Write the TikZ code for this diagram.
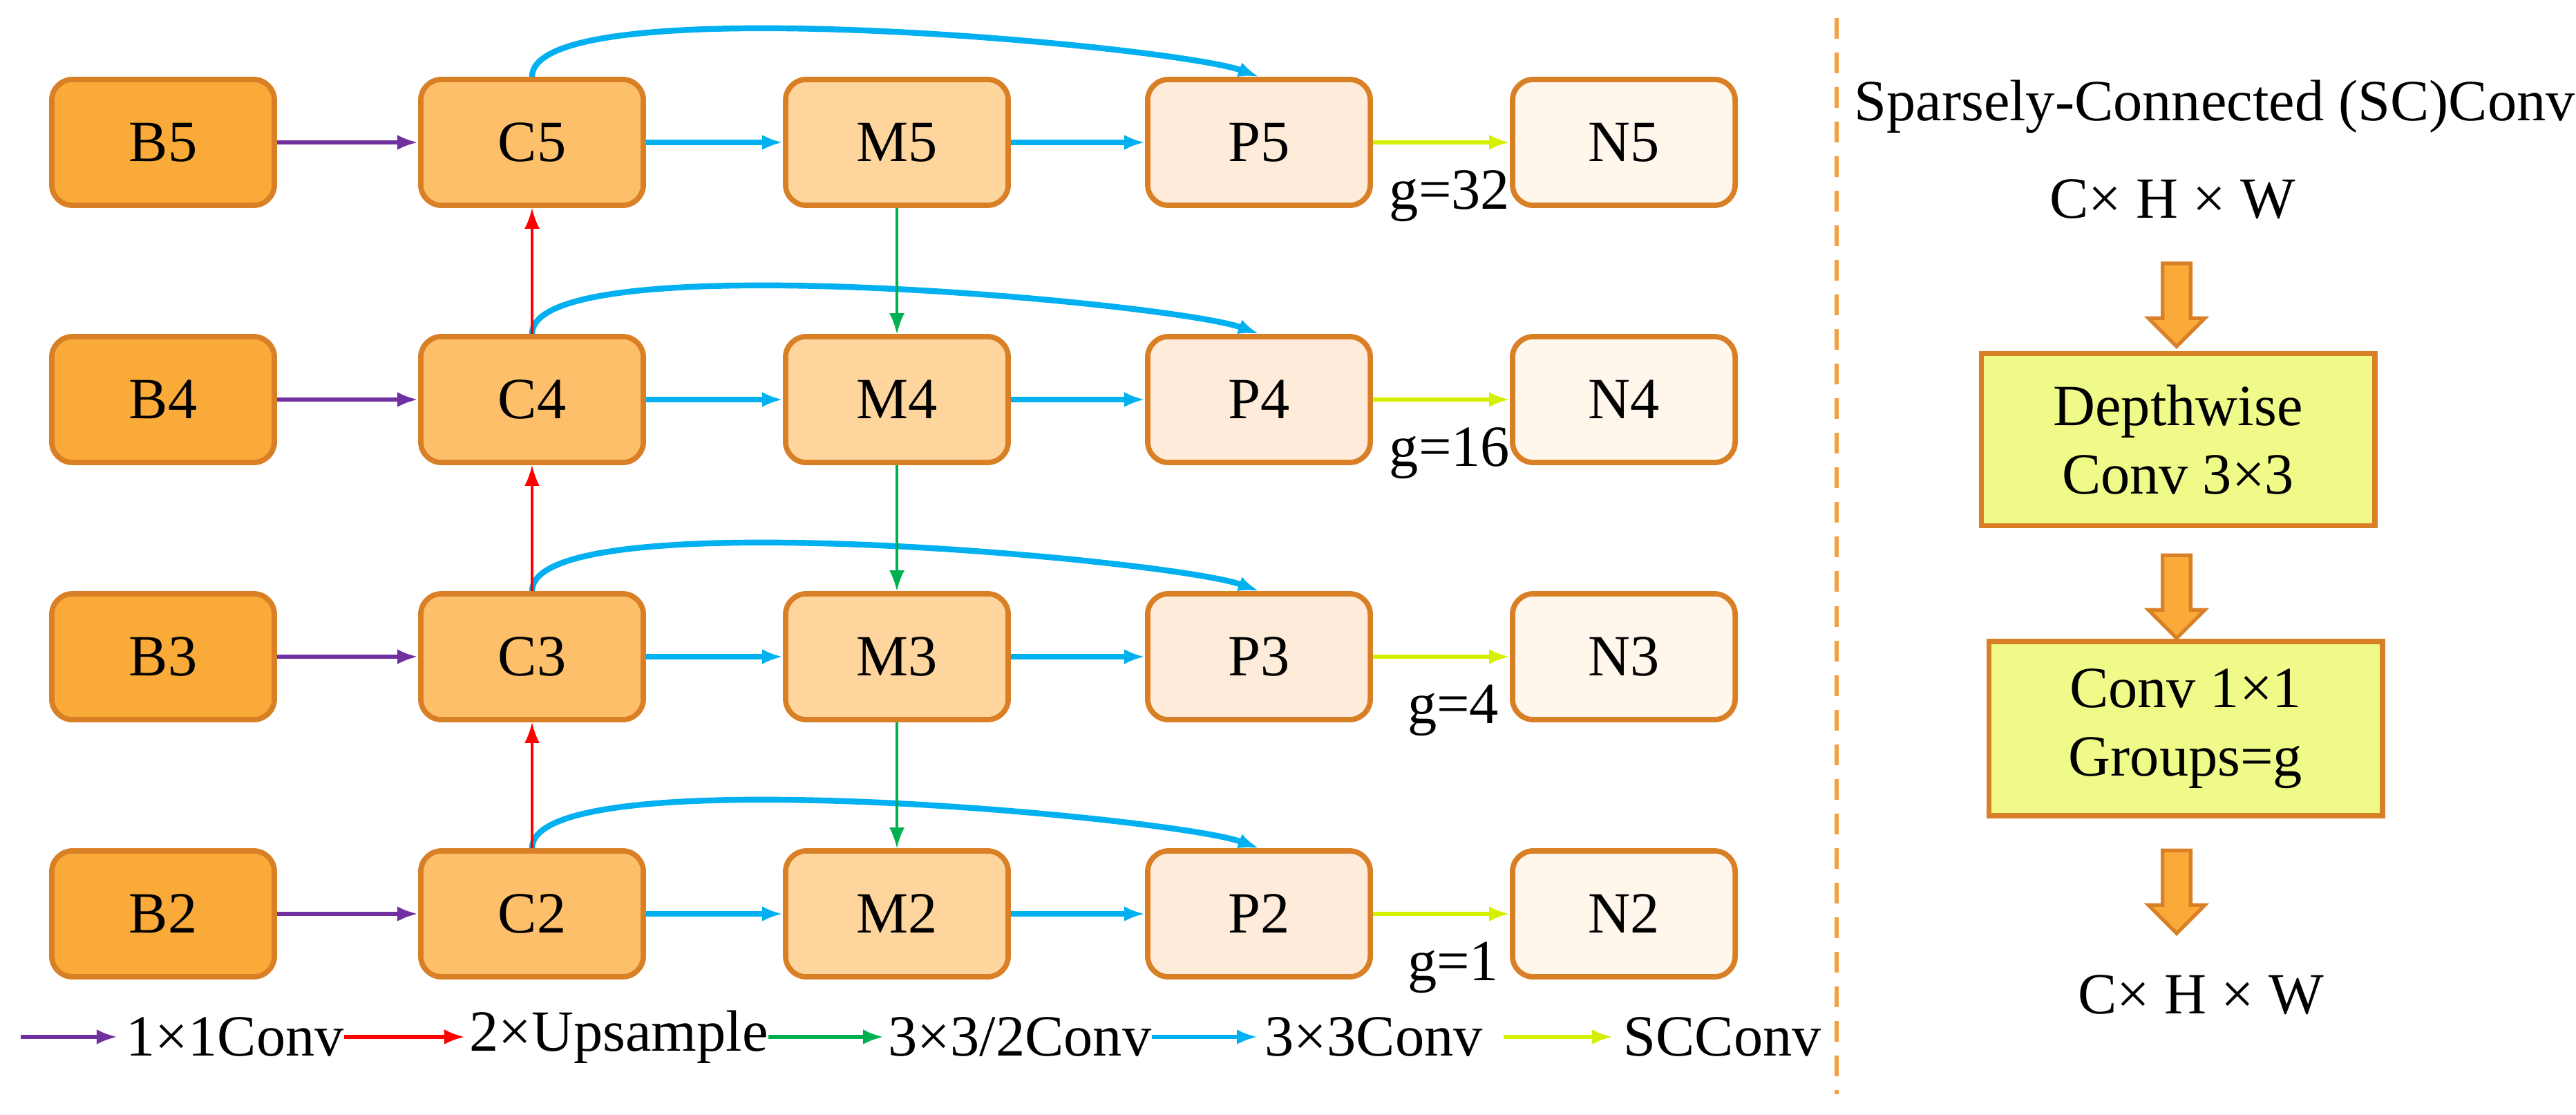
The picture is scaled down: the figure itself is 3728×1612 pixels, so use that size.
\documentclass[tikz,border=0pt]{standalone}
\usepackage{fontspec}
\setmainfont{Liberation Serif}
\usetikzlibrary{arrows.meta,shapes.arrows}
\definecolor{boxline}{HTML}{D98026}
\definecolor{colB}{HTML}{F9AA38}
\definecolor{colC}{HTML}{FDBF69}
\definecolor{colM}{HTML}{FED69D}
\definecolor{colP}{HTML}{FEEBDA}
\definecolor{colN}{HTML}{FFF6EC}
\definecolor{scbox}{HTML}{F0FA88}
\definecolor{cyanline}{HTML}{00B0F0}
\definecolor{purpline}{HTML}{7030A0}
\definecolor{greenline}{HTML}{00B050}
\definecolor{ygline}{HTML}{D4F000}
\definecolor{dashline}{HTML}{F4A040}
\tikzset{
  blk/.style={draw=boxline, line width=2.2pt, rounded corners=0.3cm,
    minimum width=3.22cm, minimum height=1.82cm, inner sep=0pt,
    font=\fontsize{24}{28}\selectfont},
  conv/.style={-{Latex[length=0.3cm,width=0.22cm]}, line width=#1},
  txt/.style={inner sep=0pt, font=\fontsize{24}{28}\selectfont},
}
\begin{document}
\begin{tikzpicture}[x=0.01cm, y=-0.01cm]
    \useasboundingbox (0,0) rectangle (3728,1612);
    % feature pyramid
    \foreach \lv/\y in {5/206, 4/578, 3/950, 2/1322} {
      \node [blk, fill=colB] (b\lv) at (236,\y) {B\lv};
      \node [blk, fill=colC] (c\lv) at (770,\y) {C\lv};
      \node [blk, fill=colM] (m\lv) at (1298,\y) {M\lv};
      \node [blk, fill=colP] (p\lv) at (1822,\y) {P\lv};
      \node [blk, fill=colN] (n\lv) at (2350,\y) {N\lv};
      \draw [conv=1.6pt, purpline] (b\lv) -- (c\lv);
      \draw [conv=2.4pt, cyanline] (c\lv) -- (m\lv);
      \draw [conv=2.4pt, cyanline] (m\lv) -- (p\lv);
      \draw [conv=1.6pt, ygline] (p\lv) -- (n\lv);
      \draw [conv=2.4pt, cyanline] (c\lv.north) to[out=90, in=160, looseness=0.32] (p\lv.north);
    }
    \foreach \lo/\hi in {2/3, 3/4, 4/5} {
      \draw [conv=1pt, red] (c\lo) -- (c\hi);
      \draw [conv=1pt, greenline] (m\hi) -- (m\lo);
    }
    \node [txt] (g5) at (2098,284) {g=32};
    \node [txt] (g4) at (2098,656) {g=16};
    \node [txt] (g3) at (2103,1028) {g=4};
    \node [txt] (g2) at (2103,1400) {g=1};
    % legend
    \coordinate (l1) at (30,1500);
    \node [txt, anchor=west] (t1) at (182,1500) {1×1Conv};
    \node [txt, anchor=west] (t2) at (679,1500) {2×Upsample};
    \node [txt, anchor=west] (t3) at (1285,1500) {3×3/2Conv};
    \node [txt, anchor=west] (t4) at (1830,1500) {3×3Conv};
    \node [txt, anchor=west] (t5) at (2349,1500) {SCConv};
    \draw [conv=1.6pt, purpline] (l1) -- ([xshift=-0.12cm]t1.west);
    \draw [conv=1.6pt, red] (t1.east) -- ([xshift=-0.06cm]t2.west);
    \draw [conv=1.6pt, greenline] (t2.east) -- ([xshift=-0.06cm]t3.west);
    \draw [conv=1.6pt, cyanline] (t3.east) -- ([xshift=-0.1cm]t4.west);
    \draw [conv=1.6pt, ygline] ([xshift=0.3cm]t4.east) -- ([xshift=-0.15cm]t5.west);
    % separator
    \coordinate (d1) at (2658,26);
    \coordinate (d2) at (2658,1583);
    \draw [dashline, line width=1.6pt, dash pattern=on 0.3cm off 0.2cm] (d1) -- (d2);
    % SC conv block
    \node [txt] (title) at (3205,154) {Sparsely-Connected (SC)Conv};
    \node [txt] (inp) at (3144,288) {C× H × W};
    \node [draw=boxline, fill=scbox, line width=2.2pt, minimum width=5.69cm,
      minimum height=2.49cm, align=center, txt, inner sep=0pt] (dw) at (3152,636)
      {Depthwise\\Conv 3×3};
    \node [draw=boxline, fill=scbox, line width=2.2pt, minimum width=5.69cm,
      minimum height=2.52cm, align=center, txt, inner sep=0pt] (pw) at (3163,1054)
      {Conv 1×1\\Groups=g};
    \node [txt] (out) at (3185,1439) {C× H × W};
    \foreach \y in {431, 853, 1280} {
      \node [single arrow, draw=boxline, fill=colB, line width=1.5pt, rotate=-90,
        minimum height=1.2cm, minimum width=0.82cm, inner sep=0.17cm,
        single arrow head extend=0.2cm] at (3150,\y) {};
    }
\end{tikzpicture}
\end{document}
